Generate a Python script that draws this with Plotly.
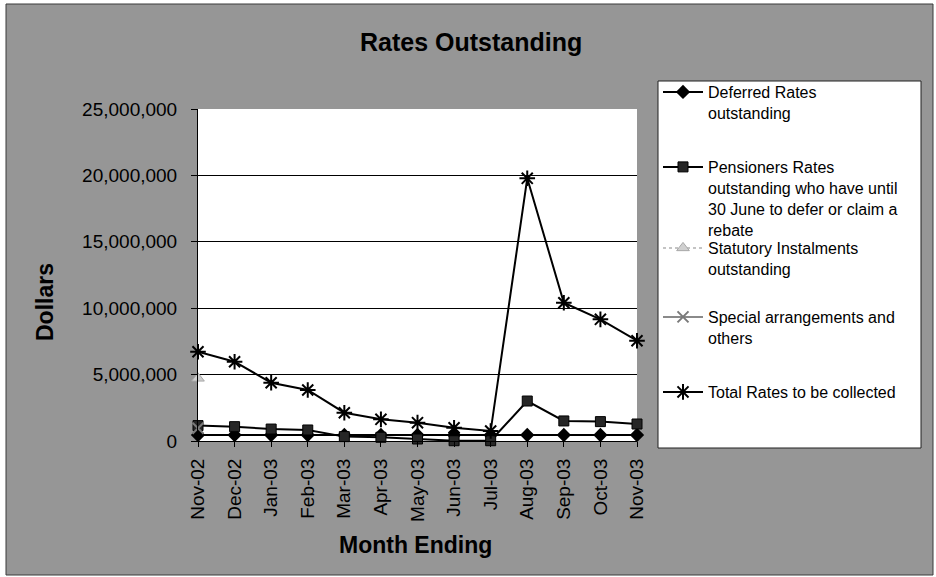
import plotly.graph_objects as go

# ---- data -------------------------------------------------------------
months = ["Nov-02", "Dec-02", "Jan-03", "Feb-03", "Mar-03", "Apr-03", "May-03",
          "Jun-03", "Jul-03", "Aug-03", "Sep-03", "Oct-03", "Nov-03"]

deferred = [450000, 450000, 450000, 450000, 450000, 450000, 450000,
            450000, 450000, 450000, 450000, 450000, 450000]
pensioners = [1160000, 1080000, 900000, 830000, 330000, 280000, 150000,
              20000, 20000, 3010000, 1510000, 1460000, 1280000]
statutory = [4720000, None, None, None, None, None, None,
             None, None, None, None, None, None]
special = [960000, None, None, None, None, None, None,
           None, None, None, None, None, None]
total = [6720000, 5970000, 4390000, 3840000, 2130000, 1630000, 1380000,
         1000000, 750000, 19780000, 10410000, 9160000, 7550000]

y_ticks = [0, 5000000, 10000000, 15000000, 20000000, 25000000]

legend_names = [
    "Deferred Rates<br>outstanding",
    "Pensioners Rates<br>outstanding who have until<br>30 June to defer or claim a<br>rebate",
    "Statutory Instalments<br>outstanding",
    "Special arrangements and<br>others",
    "Total Rates to be collected",
]

# ---- geometry (pixels of the 936x577 page) ----------------------------
W, H = 936, 577
PL, PR, PT, PB = 198, 637, 109, 441          # plot area edges


def px_x(px):
    return (px - PL) / (PR - PL)


def px_y(py):
    return (PB - py) / (PB - PT)


FONT = "Liberation Sans, Arial, sans-serif"
x_idx = list(range(len(months)))

fig = go.Figure()

fig.add_trace(go.Scatter(
    x=x_idx, y=deferred, name=legend_names[0], mode="lines+markers",
    line=dict(color="black", width=2),
    marker=dict(symbol="diamond", size=11, color="black"),
    cliponaxis=False, legend="legend"))
fig.add_trace(go.Scatter(
    x=x_idx, y=pensioners, name=legend_names[1], mode="lines+markers",
    line=dict(color="black", width=2),
    marker=dict(symbol="square", size=10, color="#262626",
                line=dict(color="black", width=1)),
    cliponaxis=False, legend="legend2"))
fig.add_trace(go.Scatter(
    x=x_idx, y=statutory, name=legend_names[2], mode="lines+markers",
    line=dict(color="#c4c4c4", width=2, dash="dot"),
    marker=dict(symbol="triangle-up", size=11, color="#d0d0d0",
                line=dict(color="#a8a8a8", width=1)),
    cliponaxis=False, legend="legend3"))
fig.add_trace(go.Scatter(
    x=x_idx, y=special, name=legend_names[3], mode="lines+markers",
    line=dict(color="#8a8a8a", width=2),
    marker=dict(symbol="x-thin-open", size=11, color="#7a7a7a",
                line=dict(color="#7a7a7a", width=2)),
    cliponaxis=False, legend="legend4"))
fig.add_trace(go.Scatter(
    x=x_idx, y=total, name=legend_names[4], mode="lines+markers",
    line=dict(color="black", width=2),
    marker=dict(symbol="asterisk-open", size=13, color="black",
                line=dict(color="black", width=2)),
    cliponaxis=False, legend="legend5"))

# legend entries, each placed at its own row
leg_rows = [75, 150, 231, 300, 375]
leg_common = dict(x=px_x(658), xanchor="left", yanchor="top",
                  bgcolor="rgba(0,0,0,0)", borderwidth=0,
                  font=dict(family=FONT, size=16, color="black"),
                  valign="top", itemwidth=40, tracegroupgap=0)
legends = {}
for i, row in enumerate(leg_rows):
    key = "legend" if i == 0 else f"legend{i + 1}"
    legends[key] = dict(leg_common, y=px_y(row))

shapes = [
    # grey chart area with thin frame
    dict(type="rect", xref="paper", yref="paper", layer="below",
         x0=px_x(6), x1=px_x(933), y0=px_y(575), y1=px_y(4),
         fillcolor="#969696", line=dict(color="#3a3a3a", width=1)),
    # white plot area
    dict(type="rect", xref="paper", yref="paper", layer="below",
         x0=0, x1=1, y0=0, y1=1, fillcolor="white", line=dict(width=0)),
    # legend box
    dict(type="rect", xref="paper", yref="paper", layer="below",
         x0=px_x(658), x1=px_x(921), y0=px_y(448), y1=px_y(81),
         fillcolor="white", line=dict(color="#202020", width=1)),
]

annotations = [
    dict(text="<b>Rates Outstanding</b>", xref="paper", yref="paper",
         x=px_x(471), y=px_y(42), xanchor="center", yanchor="middle",
         showarrow=False, font=dict(family=FONT, size=25, color="black")),
    dict(text="<b>Dollars</b>", xref="paper", yref="paper",
         x=px_x(45), y=px_y(302), xanchor="center", yanchor="middle",
         textangle=-90, showarrow=False,
         font=dict(family=FONT, size=23, color="black")),
    dict(text="<b>Month Ending</b>", xref="paper", yref="paper",
         x=px_x(415), y=px_y(545), xanchor="center", yanchor="middle",
         showarrow=False, font=dict(family=FONT, size=23, color="black")),
]

fig.update_layout(
    width=W, height=H,
    margin=dict(l=PL, r=W - PR, t=PT, b=H - PB, pad=0),
    paper_bgcolor="white", plot_bgcolor="rgba(0,0,0,0)",
    showlegend=True,
    shapes=shapes, annotations=annotations,
    **legends,
)

fig.update_xaxes(
    range=[0, len(months) - 1], tickmode="array", tickvals=x_idx,
    ticktext=months, tickangle=-90, showgrid=False, zeroline=False,
    showline=True, linecolor="black", linewidth=1,
    ticks="outside", ticklen=5, tickcolor="black",
    tickfont=dict(family=FONT, size=19, color="black"),
    ticklabelstandoff=4,
)
fig.update_yaxes(
    range=[0, 25000000], tickmode="array", tickvals=y_ticks,
    tickformat=",d", showgrid=True, gridcolor="black", gridwidth=1,
    zeroline=False, showline=True, linecolor="black", linewidth=1,
    ticks="outside", ticklen=6, tickcolor="black",
    tickfont=dict(family=FONT, size=19, color="black"),
    ticklabelstandoff=10,
)

fig.write_html("out.html")
